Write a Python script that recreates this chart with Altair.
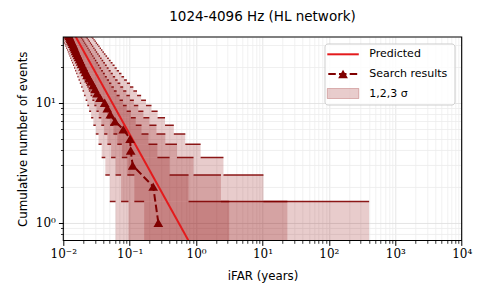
import math
import altair as alt
import pandas as pd

# ---------------- data read / derived from the reference ----------------
T_LIVE = 0.545  # years: predicted N = T_LIVE / iFAR

levels = list(range(1, 37))

# Poisson (Garwood) limits on expected counts for each observed level n
mu_lo_1 = [0.173, 0.708, 1.367, 2.086, 2.840, 3.620, 4.419, 5.232, 6.057, 6.891,
           7.734, 8.584, 9.441, 10.303, 11.170, 12.042, 12.917, 13.797, 14.679, 15.565,
           16.454, 17.345, 18.239, 19.135, 20.033, 20.934, 21.836, 22.740, 23.646, 24.553,
           25.462, 26.373, 27.284, 28.198, 29.112, 30.028]
mu_hi_1 = [3.300, 4.638, 5.918, 7.163, 8.382, 9.584, 10.77, 11.95, 13.11, 14.27,
           15.416, 16.559, 17.697, 18.830, 19.958, 21.083, 22.203, 23.321, 24.435, 25.546,
           26.655, 27.761, 28.865, 29.967, 31.066, 32.164, 33.260, 34.354, 35.447, 36.538,
           37.627, 38.716, 39.802, 40.888, 41.972, 43.055]
mu_lo_2 = [0.0230, 0.230, 0.596, 1.058, 1.583, 2.153, 2.758, 3.391, 4.046, 4.719,
           5.417, 6.120, 6.835, 7.561, 8.297, 9.042, 9.794, 10.554, 11.320, 12.093,
           12.871, 13.655, 14.443, 15.236, 16.033, 16.835, 17.640, 18.449, 19.261, 20.076,
           20.894, 21.716, 22.540, 23.367, 24.196, 25.028]
mu_hi_2 = [5.683, 7.348, 8.902, 10.39, 11.82, 13.22, 14.59, 15.94, 17.27, 18.58,
           19.880, 21.165, 22.439, 23.703, 24.958, 26.206, 27.446, 28.680, 29.907, 31.129,
           32.345, 33.557, 34.764, 35.967, 37.165, 38.360, 39.552, 40.739, 41.924, 43.106,
           44.284, 45.460, 46.633, 47.804, 48.972, 50.138]
mu_lo_3 = [0.00135, 0.0527, 0.211, 0.466, 0.792, 1.18, 1.60, 2.07, 2.56, 3.10,
           3.667, 4.226, 4.804, 5.397, 6.005, 6.625, 7.257, 7.900, 8.552, 9.213,
           9.883, 10.560, 11.244, 11.936, 12.633, 13.337, 14.046, 14.761, 15.480, 16.205,
           16.934, 17.667, 18.404, 19.145, 19.890, 20.639]
mu_hi_3 = [8.900, 10.87, 12.69, 14.41, 16.06, 17.66, 19.23, 20.77, 22.28, 23.70,
           25.107, 26.530, 27.936, 29.329, 30.708, 32.076, 33.434, 34.782, 36.120, 37.451,
           38.773, 40.089, 41.398, 42.700, 43.996, 45.287, 46.573, 47.853, 49.129, 50.400,
           51.667, 52.929, 54.188, 55.443, 56.695, 57.942]

# Search results: iFAR (years) of the n-th loudest event
event_ifar = [0.27, 0.226, 0.111, 0.1035, 0.1015, 0.080, 0.060, 0.051, 0.046, 0.042,
              0.0357, 0.0322, 0.030, 0.028, 0.0261, 0.0244, 0.0228, 0.0216, 0.0205, 0.0198,
              0.0188, 0.0182, 0.0175, 0.0169, 0.0164, 0.0158, 0.0153, 0.0150, 0.0145, 0.0143,
              0.0138, 0.0135, 0.0131, 0.0128, 0.0126, 0.0122, 0.0120, 0.0118, 0.0115, 0.0112]
event_count = list(range(1, len(event_ifar) + 1))

# Predicted line end points
pred_ifar = [0.005, 2.0]
pred_count = [109.0, 0.2725]

x_major = [0.01, 0.1, 1, 10, 100, 1000, 10000]
x_major_labels = ["10⁻²", "10⁻¹", "10⁰", "10¹", "10²", "10³", "10⁴"]
y_major = [1, 10]
y_major_labels = ["10⁰", "10¹"]
x_minor = [m * 10.0 ** k for k in range(-2, 4) for m in range(2, 10)]
y_minor = [0.8, 0.9, 2, 3, 4, 5, 6, 7, 8, 9, 20, 30]

legend_labels = ["Predicted", "Search results", "1,2,3 σ"]

# ---------------- styling ----------------
RED = "#e41a1c"
DARK = "#800000"
BAND = "#8b0000"
SANS = "DejaVu Sans"
SERIF = "DejaVu Serif"
W, H = 398.4, 203.5

xs = alt.Scale(type="log", domain=[0.01, 10000], nice=False)
ys = alt.Scale(type="log", domain=[0.711, 35.3], nice=False)


def label_expr(vals, labels):
    expr = "''"
    for v, lab in zip(reversed(vals), reversed(labels)):
        expr = f"(abs(log(datum.value)/LN10 - ({math.log10(v)})) < 0.01) ? '{lab}' : {expr}"
    return expr


# ---------------- tables ----------------
bands = [("3", mu_lo_3, mu_hi_3), ("2", mu_lo_2, mu_hi_2), ("1", mu_lo_1, mu_hi_1)]
rect_rows, edge_rows = [], []
for sig, lo, hi in bands:
    for n, l, h in zip(levels, lo, hi):
        rect_rows.append(dict(sigma=sig, x1=T_LIVE / h, x2=T_LIVE / l, y1=n - 0.5, y2=n + 0.5))
    for i in range(len(levels) - 1):
        yv = levels[i] + 0.5
        edge_rows.append(dict(sigma=sig, x1=T_LIVE / lo[i + 1], x2=T_LIVE / lo[i], y=yv))
        edge_rows.append(dict(sigma=sig, x1=T_LIVE / hi[i + 1], x2=T_LIVE / hi[i], y=yv))
rect_df = pd.DataFrame(rect_rows)
edge_df = pd.DataFrame(edge_rows)
ev_df = pd.DataFrame({"ifar": event_ifar, "n": event_count})
pred_df = pd.DataFrame({"ifar": pred_ifar, "n": pred_count})
one = pd.DataFrame({"k": [0]})

minor_x_axis = alt.Axis(values=x_minor, grid=True, gridColor="#ececec", gridWidth=0.8,
                        labels=False, ticks=True, tickSize=2.8, tickColor="black",
                        tickWidth=0.8, domain=False, title=None, orient="bottom")
minor_y_axis = alt.Axis(values=y_minor, grid=True, gridColor="#ececec", gridWidth=0.8,
                        labels=False, ticks=True, tickSize=2.8, tickColor="black",
                        tickWidth=0.8, domain=False, title=None, orient="left")
major_x_axis = alt.Axis(values=x_major, labelExpr=label_expr(x_major, x_major_labels),
                        grid=True, gridColor="#dedede", gridWidth=0.8,
                        tickSize=4.9, tickColor="black", tickWidth=1, domain=False,
                        labelFont=SERIF, labelFontSize=12, labelColor="black", labelPadding=3,
                        labelFlush=False, labelOverlap=False,
                        title="iFAR (years)", titleFont=SANS, titleFontSize=11.8,
                        titleFontWeight="normal", titleColor="black", titlePadding=11,
                        orient="bottom")
major_y_axis = alt.Axis(values=y_major, labelExpr=label_expr(y_major, y_major_labels),
                        grid=True, gridColor="#dedede", gridWidth=0.8,
                        tickSize=4.9, tickColor="black", tickWidth=1, domain=False,
                        labelFont=SERIF, labelFontSize=12, labelColor="black", labelPadding=3,
                        labelFlush=False, labelOverlap=False,
                        title="Cumulative number of events", titleFont=SANS, titleFontSize=11.8,
                        titleFontWeight="normal", titleColor="black", titlePadding=7,
                        orient="left")

band_layer = alt.Chart(rect_df).mark_rect(color=BAND, opacity=0.2, clip=True).encode(
    x=alt.X("x1:Q", scale=xs, axis=minor_x_axis), x2="x2:Q",
    y=alt.Y("y1:Q", scale=ys, axis=minor_y_axis), y2="y2:Q")

edge_layer = alt.Chart(edge_df).mark_rule(color=DARK, strokeWidth=1.5, opacity=0.9, clip=True).encode(
    x=alt.X("x1:Q", scale=xs, axis=None), x2="x2:Q",
    y=alt.Y("y:Q", scale=ys, axis=None))

pred_layer = alt.Chart(pred_df).mark_line(color=RED, strokeWidth=2, clip=True).encode(
    x=alt.X("ifar:Q", scale=xs, axis=major_x_axis),
    y=alt.Y("n:Q", scale=ys, axis=major_y_axis))

ev_line = alt.Chart(ev_df).mark_line(color=DARK, strokeWidth=2, strokeDash=[7.5, 3.2], clip=True).encode(
    x=alt.X("ifar:Q", scale=xs, axis=None), y=alt.Y("n:Q", scale=ys, axis=None), order="n:Q")

ev_pts = alt.Chart(ev_df).mark_point(shape="triangle-up", filled=True, size=95, color=DARK,
                                     opacity=1, clip=True).encode(
    x=alt.X("ifar:Q", scale=xs, axis=None), y=alt.Y("n:Q", scale=ys, axis=None))

frame = alt.Chart(one).mark_rect(fill=None, stroke="black", strokeWidth=1.1).encode(
    x=alt.value(0), x2=alt.value(W), y=alt.value(0), y2=alt.value(H))

# ---------------- legend (drawn in view pixels) ----------------
LX0, LX1 = 264.0, 295.5
ROWS = [17.3, 37.0, 56.5]
leg_box = alt.Chart(one).mark_rect(fill="white", fillOpacity=0.8, stroke="#cccccc",
                                   strokeWidth=1, cornerRadius=3).encode(
    x=alt.value(261.7), x2=alt.value(391.7), y=alt.value(7), y2=alt.value(68))
leg_red = alt.Chart(one).mark_rule(color=RED, strokeWidth=2).encode(
    x=alt.value(LX0), x2=alt.value(LX1), y=alt.value(ROWS[0]))
leg_dash = alt.Chart(one).mark_rule(color=DARK, strokeWidth=2, strokeDash=[7.5, 3.2],
                                    strokeDashOffset=-1).encode(
    x=alt.value(LX0), x2=alt.value(LX1), y=alt.value(ROWS[1]))
leg_tri = alt.Chart(one).mark_point(shape="triangle-up", filled=True, size=95, color=DARK,
                                    opacity=1).encode(
    x=alt.value((LX0 + LX1) / 2), y=alt.value(ROWS[1]))
leg_band = alt.Chart(one).mark_rect(fill=BAND, fillOpacity=0.2, stroke=BAND,
                                    strokeOpacity=0.25).encode(
    x=alt.value(LX0), x2=alt.value(LX1), y=alt.value(ROWS[2] - 5), y2=alt.value(ROWS[2] + 5))
leg_texts = [
    alt.Chart(one).mark_text(text=lab, align="left", baseline="middle", font=SANS,
                             fontSize=11, color="black").encode(
        x=alt.value(306), y=alt.value(ry))
    for lab, ry in zip(legend_labels, ROWS)
]

chart = alt.layer(
    band_layer, edge_layer, pred_layer, ev_line, ev_pts, frame,
    leg_box, leg_red, leg_dash, leg_tri, leg_band, *leg_texts
).resolve_axis(x="independent", y="independent").properties(
    width=W, height=H,
    title=alt.TitleParams("1024-4096 Hz (HL network)", font=SANS, fontSize=13.5,
                          fontWeight="normal", color="black", anchor="middle", offset=13),
    autosize=alt.AutoSizeParams(type="none"),
    padding={"left": 55.3, "top": 29, "right": 14, "bottom": 46},
).configure_view(stroke=None)

chart.save("out.html", embed_options={"renderer": "svg", "actions": False})
